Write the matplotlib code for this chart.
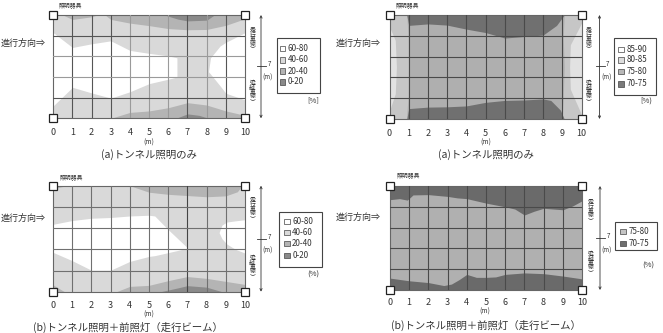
import matplotlib
matplotlib.use("Agg")
import matplotlib.pyplot as plt
from matplotlib.patches import Rectangle, FancyArrowPatch
from matplotlib.lines import Line2D
from matplotlib.transforms import Affine2D

plt.rcParams['font.family'] = ['Noto Sans CJK JP', 'DejaVu Sans']

W, H = 663, 333
INK = '#333333'

# ---------------------------------------------------------------------------
# Data (x along tunnel [m], y across tunnel [m], 0..7)
# ---------------------------------------------------------------------------

x_ticks = list(range(11))
y_grid = [0, 1.4, 2.8, 4.2, 5.6, 7.0]

# (a) left: tunnel lighting only, uniformity classes [%]
tl_labels = ['60-80', '40-60', '20-40', '0-20']
tl_top_mid_x = [0.5, 1, 2, 2.3, 2.7, 3, 4, 5, 6, 7, 8, 9, 10]
tl_top_mid_y = [7.0, 6.7, 6.88, 7.0, 7.0, 6.7, 6.45, 6.28, 6.08, 6.0, 6.02, 6.3, 6.75]
tl_top_dark_x = [5.8, 6.5, 7, 8, 8.4]
tl_top_dark_y = [7.0, 6.72, 6.6, 6.65, 7.0]
tl_white_l_x = [0, 1, 2, 3, 4, 5, 6, 6.45]
tl_white_l_hi = [5.8, 4.8, 5.05, 5.25, 4.6, 4.4, 4.23, 4.1]
tl_white_l_lo = [0.85, 2.1, 1.72, 1.37, 1.8, 2.35, 2.65, 2.8]
tl_white_r_x = [8.1, 8.2, 8.7, 9.0, 10]
tl_white_r_hi = [3.2, 4.1, 4.9, 5.15, 5.8]
tl_white_r_lo = [3.15, 3.0, 2.2, 1.7, 1.25]
tl_bot_mid_x = [3.0, 4, 5, 6, 7, 8, 9, 10]
tl_bot_mid_y = [0.0, 0.4, 0.5, 0.72, 1.06, 0.9, 0.5, 0.2]
tl_bot_dark_x = [6.4, 7, 7.6, 8.1]
tl_bot_dark_y = [0.0, 0.3, 0.2, 0.0]

# (a) right: tunnel lighting only [%]
tr_labels = ['85-90', '80-85', '75-80', '70-75']
tr_edge_l_y = [0.55, 1.7, 3.5, 5.3, 6.2]
tr_edge_l_x = [0.0, 0.3, 0.36, 0.3, 0.0]
tr_edge_r_y = [0.3, 2.0, 3.5, 5.0, 6.45]
tr_edge_r_x = [10.0, 9.42, 9.38, 9.42, 10.0]
tr_body_y = [0, 1.5, 3.5, 5.5, 7]
tr_body_l = [0.88, 0.97, 0.98, 0.97, 0.9]
tr_body_r = [9.0, 9.05, 9.1, 9.05, 9.1]
tr_top_x = [0.9, 1, 2, 3, 4, 5, 6, 7, 8, 8.7, 9.1]
tr_top_y = [7.0, 6.3, 6.4, 6.32, 6.05, 5.82, 5.45, 5.55, 5.65, 6.3, 7.0]
tr_bot_x = [0.9, 1, 2, 3, 4, 5, 6, 7, 8, 8.4, 8.9, 9.1]
tr_bot_y = [0.0, 0.7, 0.8, 0.82, 0.88, 1.12, 1.25, 1.28, 1.35, 1.25, 0.6, 0.0]

# (b) left: tunnel lighting + headlights [%]
bl_labels = ['60-80', '40-60', '20-40', '0-20']
bl_top_mid_x = [4.0, 5, 6, 7, 8, 9, 9.6, 9.85]
bl_top_mid_y = [7.0, 6.57, 6.43, 6.35, 6.27, 6.33, 6.6, 7.0]
bl_corner_x = [0, 0.7]
bl_corner_y = [6.8, 7.0]
bl_white_l_x = [0, 1, 2, 3, 4, 5, 5.3, 6, 7]
bl_white_l_hi = [4.45, 4.7, 4.85, 4.9, 5.0, 5.05, 5.0, 4.1, 2.9]
bl_white_l_lo = [2.6, 2.05, 1.42, 1.42, 2.0, 2.33, 2.38, 2.58, 2.87]
bl_white_r_x = [8.65, 8.8, 9.05, 9.5, 10]
bl_white_r_hi = [3.9, 4.4, 4.6, 4.68, 4.75]
bl_white_r_lo = [3.9, 3.5, 3.15, 2.8, 2.55]
bl_bot_mid_x = [3.3, 4, 5, 6, 7, 8, 9, 10]
bl_bot_mid_y = [0.0, 0.35, 0.42, 0.73, 1.0, 0.88, 0.68, 0.48]
bl_bot_dark_x = [5.6, 6.5, 7, 8, 8.8]
bl_bot_dark_y = [0.0, 0.25, 0.4, 0.3, 0.0]
bl_bot_corner_x = [0, 0.6]
bl_bot_corner_y = [0.45, 0.0]

# (b) right: tunnel lighting + headlights [%]
br_labels = ['75-80', '70-75']
br_top_x = [0, 0.5, 0.9, 1.2, 2, 3, 3.5, 4, 5, 6, 6.5, 7, 7.5, 8, 9, 9.5, 10]
br_top_y = [6.08, 6.15, 6.05, 6.4, 6.42, 6.3, 6.2, 6.15, 5.85, 5.6, 5.45,
            5.05, 5.3, 5.5, 5.4, 5.65, 6.0]
br_bot_x = [0, 1, 2, 2.8, 3.2, 3.6, 4, 4.5, 5, 5.5, 6, 7, 8, 9, 10]
br_bot_y = [0.8, 0.62, 0.5, 0.3, 0.4, 0.7, 1.05, 0.85, 0.85, 0.88, 1.05,
            1.15, 1.1, 0.94, 0.75]

# greys for the classes
tl_colors = ['#ffffff', '#d9d9d9', '#b4b4b4', '#8a8a8a']
tr_colors = ['#e2e2e2', '#c6c6c6', '#afafaf', '#707070']
br_colors = ['#b0b0b0', '#6a6a6a']

cap_a = '(a)トンネル照明のみ'
cap_b = '(b)トンネル照明＋前照灯（走行ビーム）'
lamp = '照明器具'
direction = '進行方向⇒'
lane_top = '︵走行車線︶'
lane_bot = '︵追越車線︶'


# ---------------------------------------------------------------------------
# helpers
# ---------------------------------------------------------------------------

def make_axes(fig, box, tick_pad):
    l, t, r, b = box
    ax = fig.add_axes([l / W, 1 - b / H, (r - l) / W, (b - t) / H])
    ax.set_xlim(0, 10)
    ax.set_ylim(0, 7)
    ax.set_xticks(x_ticks)
    ax.set_xticklabels([str(v) for v in x_ticks], fontsize=6.5, color=INK)
    ax.tick_params(axis='x', length=0, pad=tick_pad)
    ax.set_yticks([])
    for s in ax.spines.values():
        s.set_color('#666666')
        s.set_linewidth(0.8)
    return ax


def draw_grid(ax, color, heavy_x=(), heavy_y=(), heavy='#555555'):
    for xv in x_ticks[1:-1]:
        ax.axvline(xv, color=heavy if xv in heavy_x else color, lw=0.8, zorder=3)
    for yv in y_grid[1:-1]:
        ax.axhline(yv, color=heavy if yv in heavy_y else color, lw=0.8, zorder=3)
    for xc in (0, 10):
        for yc in (0, 7):
            ax.plot(xc, yc, marker='s', ms=5.5, mfc='white', mec='#222222',
                    mew=0.9, clip_on=False, zorder=6)


def decorate(fig, T, box, arrow_x, lane_x, lane_c, seven_y, labels, colors,
             leg_box, leg_y, sq_x, unit, unit_xy, lamp_xy, dir_xy,
             m_xy, cap, cap_xy):
    l, t, r, b = box
    fig.text(*lamp_xy, lamp, transform=T, fontsize=4.2, ha='center',
             va='center', color=INK)
    fig.text(*dir_xy, direction, transform=T, fontsize=6.5, ha='left',
             va='center', color=INK)
    fig.text(*m_xy, '(m)', transform=T, fontsize=5, ha='center',
             va='center', color=INK)
    fig.text(*cap_xy, cap, transform=T, fontsize=7.5, ha='center',
             va='center', color=INK)

    # cross-section arrow with 7 m mark
    fig.add_artist(FancyArrowPatch((arrow_x, t), (arrow_x, b), transform=T,
                                   arrowstyle='<->', mutation_scale=4,
                                   lw=0.6, color=INK, shrinkA=0, shrinkB=0))
    fig.add_artist(Line2D([arrow_x - 4, arrow_x + 5], [seven_y, seven_y],
                          transform=T, lw=0.6, color=INK))
    fig.text(arrow_x + 8, seven_y - 2, '7', transform=T, fontsize=4.5,
             ha='center', va='center', color=INK)
    fig.text(arrow_x + 7, seven_y + 12, '(m)', transform=T, fontsize=4.5,
             ha='center', va='center', color=INK)
    for txt, cy in zip((lane_top, lane_bot), lane_c):
        fig.text(lane_x, cy, '\n'.join(txt), transform=T, fontsize=4.2,
                 linespacing=0.85, ha='center', va='center', color=INK)

    # legend box
    bx0, by0, bx1, by1 = leg_box
    fig.add_artist(Rectangle((bx0, by0), bx1 - bx0, by1 - by0, transform=T,
                             fc='white', ec='#444444', lw=0.8))
    for lab, col, yy in zip(labels, colors, leg_y):
        fig.add_artist(Rectangle((sq_x - 2.8, yy - 2.8), 5.6, 5.6,
                                 transform=T, fc=col, ec='#444444', lw=0.5))
        fig.text(sq_x + 5.5, yy, lab, transform=T, fontsize=5.8, ha='left',
                 va='center', color=INK)
    fig.text(*unit_xy, unit, transform=T, fontsize=5.5, ha='center',
             va='center', color=INK)


# ---------------------------------------------------------------------------
# figure
# ---------------------------------------------------------------------------

fig = plt.figure(figsize=(W / 100, H / 100), dpi=100)
fig.patch.set_facecolor('white')
T = Affine2D().scale(1 / W, -1 / H).translate(0, 1) + fig.transFigure

box_tl = (53.3, 15, 245, 118.3)
box_tr = (389.5, 15, 581.5, 119)
box_bl = (53, 185.7, 245, 291.7)
box_br = (390, 186, 582, 290)

# --- (a) left
ax = make_axes(fig, box_tl, 7)
c = tl_colors
ax.set_facecolor(c[1])
ax.fill_between(tl_top_mid_x, tl_top_mid_y, 7, color=c[2], lw=0, zorder=1)
ax.fill_between(tl_top_dark_x, tl_top_dark_y, 7, color=c[3], lw=0, zorder=2)
ax.fill_between(tl_white_l_x, tl_white_l_lo, tl_white_l_hi, color=c[0], lw=0, zorder=1)
ax.fill_between(tl_white_r_x, tl_white_r_lo, tl_white_r_hi, color=c[0], lw=0, zorder=1)
ax.fill_between(tl_bot_mid_x, 0, tl_bot_mid_y, color=c[2], lw=0, zorder=1)
ax.fill_between(tl_bot_dark_x, 0, tl_bot_dark_y, color=c[3], lw=0, zorder=2)
draw_grid(ax, '#9a9a9a', heavy_x=(1, 2, 3, 7, 9), heavy_y=(1.4, 5.6))
decorate(fig, T, box_tl, 261, 252.3, (37.5, 90), 66, tl_labels, tl_colors,
         (277.3, 38.3, 320, 93.3), (48.3, 60, 71, 81.7), 282.5, '[%]',
         (313, 100), (71, 5), (1, 43), (149, 143), cap_a, (149, 155))

# --- (a) right
ax = make_axes(fig, box_tr, 7)
c = tr_colors
ax.set_facecolor(c[1])
ax.fill_betweenx(tr_edge_l_y, 0, tr_edge_l_x, color=c[0], lw=0, zorder=1)
ax.fill_betweenx(tr_edge_r_y, tr_edge_r_x, 10, color=c[0], lw=0, zorder=1)
ax.fill_betweenx(tr_body_y, tr_body_l, tr_body_r, color=c[2], lw=0, zorder=1)
ax.fill_between(tr_top_x, tr_top_y, 7, color=c[3], lw=0, zorder=2)
ax.fill_between(tr_bot_x, 0, tr_bot_y, color=c[3], lw=0, zorder=2)
draw_grid(ax, '#4a4a4a')
decorate(fig, T, box_tr, 599.5, 588.5, (37.5, 90), 66, tr_labels,
         ['#ffffff', '#dddddd', '#b8b8b8', '#7a7a7a'],
         (614.3, 38.3, 656, 95), (49.3, 60, 71.7, 84), 620.7, '[%)',
         (646.7, 100.7), (408, 5), (336, 43), (486, 143), cap_a, (486, 155))

# --- (b) left
ax = make_axes(fig, box_bl, 7)
c = tl_colors
ax.set_facecolor(c[1])
ax.fill_between(bl_top_mid_x, bl_top_mid_y, 7, color=c[2], lw=0, zorder=1)
ax.fill_between(bl_corner_x, bl_corner_y, 7, color=c[2], lw=0, zorder=1)
ax.fill_between(bl_white_l_x, bl_white_l_lo, bl_white_l_hi, color=c[0], lw=0, zorder=1)
ax.fill_between(bl_white_r_x, bl_white_r_lo, bl_white_r_hi, color=c[0], lw=0, zorder=1)
ax.fill_between(bl_bot_mid_x, 0, bl_bot_mid_y, color=c[2], lw=0, zorder=1)
ax.fill_between(bl_bot_corner_x, 0, bl_bot_corner_y, color=c[2], lw=0, zorder=1)
ax.fill_between(bl_bot_dark_x, 0, bl_bot_dark_y, color=c[3], lw=0, zorder=2)
draw_grid(ax, '#707070', heavy_x=(7,), heavy='#444444')
decorate(fig, T, box_bl, 261, 252.3, (207, 265), 239, bl_labels, tl_colors,
         (279.3, 211.7, 322.3, 267.3), (221.7, 232.7, 243.3, 255.5), 286.7,
         '(%)', (313.3, 275), (72, 177), (1, 218), (149, 315), cap_b,
         (128, 327))

# --- (b) right
ax = make_axes(fig, box_br, 6)
c = br_colors
ax.set_facecolor(c[0])
ax.fill_between(br_top_x, br_top_y, 7, color=c[1], lw=0, zorder=2)
ax.fill_between(br_bot_x, 0, br_bot_y, color=c[1], lw=0, zorder=2)
draw_grid(ax, '#4a4a4a')
decorate(fig, T, box_br, 600, 591, (209, 261), 238.3, br_labels,
         ['#c4c4c4', '#6e6e6e'],
         (615, 221.7, 657.3, 250), (231.7, 243.3), 623, '(%)',
         (648.3, 266), (409, 175), (336, 217), (485, 312), cap_b, (486, 325))

fig.savefig('out.png', dpi=100)
